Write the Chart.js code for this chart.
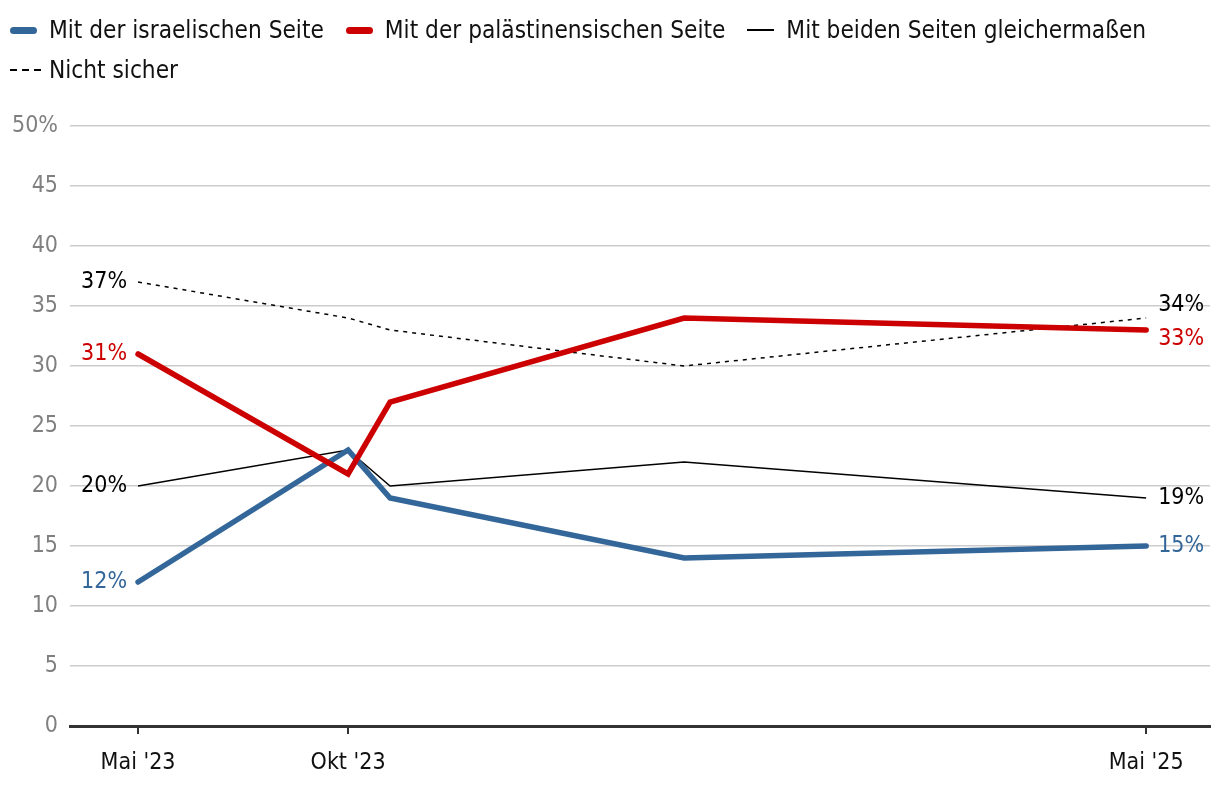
<!DOCTYPE html>
<html>
<head>
<meta charset="utf-8">
<script src="https://cdn.jsdelivr.net/npm/chart.js@4"></script>
<style>
  html, body { margin: 0; padding: 0; background: #fff; }
  #wrap { position: relative; width: 1220px; height: 788px; }
  #legend {
    position: absolute; left: 10px; top: 16px; width: 1200px;
    display: flex; flex-wrap: wrap; column-gap: 22px; row-gap: 12px;
    font-family: "Liberation Sans Narrow", "DejaVu Sans Condensed", sans-serif;
    font-size: 24.2px; color: #111;
  }
  .item { display: flex; align-items: center; height: 28px; }
  .swatch { width: 27px; margin-right: 12px; }
</style>
</head>
<body>
<div id="wrap">
  <canvas id="lineChart" width="1220" height="788"></canvas>
  <div id="legend"></div>
</div>
<script>
// months since May 2023
const months = [0, 5, 6, 13, 24];
const tickMonths = [0, 5, 24];
const tickLabels = ["Mai '23", "Okt '23", "Mai '25"];

const israeli = [12, 23, 19, 14, 15];
const palestinian = [31, 21, 27, 34, 33];
const both = [20, 23, 20, 22, 19];
const notSure = [37, 34, 33, 30, 34];

const seriesNames = [
  "Mit der israelischen Seite",
  "Mit der palästinensischen Seite",
  "Mit beiden Seiten gleichermaßen",
  "Nicht sicher"
];

const FONT = "'Liberation Sans Narrow', 'DejaVu Sans Condensed', sans-serif";

function pts(values) {
  return values.map((v, i) => ({ x: months[i], y: v }));
}

const styles = [
  { color: "#336699", label: "#336699", width: 5.5, dash: [] },
  { color: "#cc0000", label: "#cc0000", width: 5.5, dash: [] },
  { color: "#000000", label: "#000000", width: 1.5, dash: [] },
  { color: "#000000", label: "#000000", width: 1.5, dash: [4, 5] }
];
const allValues = [israeli, palestinian, both, notSure];

// end-label vertical nudges (px) so close labels don't collide
const rightNudge = [0, 9, 0, -13];

const datasets = allValues.map((vals, i) => ({
  label: seriesNames[i],
  data: pts(vals),
  borderColor: styles[i].color,
  borderWidth: styles[i].width,
  borderDash: styles[i].dash,
  borderCapStyle: i < 2 ? "round" : "butt",
  pointRadius: 0,
  tension: 0,
  fill: false
}));
// blue and red drawn above the black lines
datasets[0].order = 1;
datasets[1].order = 0;
datasets[2].order = 2;
datasets[3].order = 3;

const endLabels = {
  id: "endLabels",
  afterDatasetsDraw(chart) {
    const ctx = chart.ctx;
    ctx.save();
    ctx.font = "23px " + FONT;
    ctx.textBaseline = "middle";
    chart.data.datasets.forEach((ds, i) => {
      const meta = chart.getDatasetMeta(i);
      const first = meta.data[0];
      const last = meta.data[meta.data.length - 1];
      ctx.fillStyle = styles[i].label;
      ctx.textAlign = "right";
      ctx.fillText(allValues[i][0] + "%", first.x - 11, first.y);
      ctx.textAlign = "left";
      ctx.fillText(allValues[i][allValues[i].length - 1] + "%", last.x + 12, last.y + rightNudge[i]);
    });
    ctx.restore();
  }
};

new Chart(document.getElementById("lineChart").getContext("2d"), {
  type: "line",
  data: { datasets },
  options: {
    responsive: false,
    animation: false,
    layout: { padding: { top: 126, right: 10, bottom: 0, left: 0 } },
    plugins: { legend: { display: false }, tooltip: { enabled: false } },
    scales: {
      x: {
        type: "linear",
        min: -1.62,
        max: 25.52,
        afterBuildTicks: s => { s.ticks = tickMonths.map(v => ({ value: v })); },
        afterFit: s => { s.height = 62; },
        ticks: {
          autoSkip: false,
          maxRotation: 0,
          padding: 15,
          color: "#111",
          font: { family: FONT, size: 23 },
          callback: v => tickLabels[tickMonths.indexOf(v)]
        },
        grid: { drawOnChartArea: false, drawTicks: true, tickLength: 8, color: "#333", lineWidth: 2 },
        border: { display: true, color: "#333", width: 3 }
      },
      y: {
        min: 0,
        max: 50,
        afterFit: s => { s.width = 70; },
        ticks: {
          stepSize: 5,
          padding: 12,
          color: "#808080",
          font: { family: FONT, size: 23 },
          callback: v => v === 50 ? "50%" : v
        },
        grid: { color: "#cccccc", lineWidth: 1.5, drawTicks: false },
        border: { display: false }
      }
    }
  },
  plugins: [endLabels]
});

// HTML legend
const legend = document.getElementById("legend");
seriesNames.forEach((name, i) => {
  const item = document.createElement("div");
  item.className = "item";
  const sw = document.createElement("div");
  sw.className = "swatch";
  const st = styles[i];
  if (i < 2) {
    sw.style.height = "7px";
    sw.style.borderRadius = "4px";
    sw.style.background = st.color;
  } else if (i === 2) {
    sw.style.height = "2px";
    sw.style.background = "#000";
  } else {
    sw.style.height = "2px";
    sw.style.width = "31px";
    sw.style.margin = "0 8px 0 0";
    sw.style.background = "repeating-linear-gradient(to right, #000 0 7px, transparent 7px 12px)";
  }
  const txt = document.createElement("span");
  txt.textContent = name;
  item.appendChild(sw);
  item.appendChild(txt);
  legend.appendChild(item);
});
</script>
</body>
</html>
